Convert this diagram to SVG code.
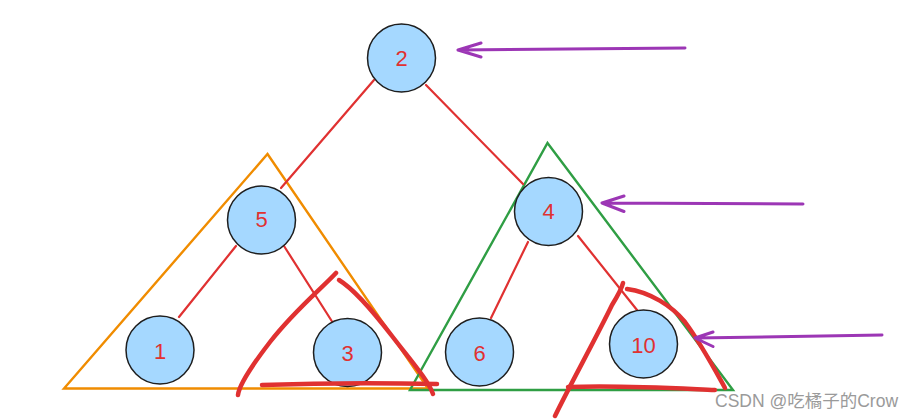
<svg xmlns="http://www.w3.org/2000/svg" width="924" height="419" viewBox="0 0 924 419">
<style>
.node circle{fill:#a5d8ff;stroke:#1e1e1e;stroke-width:1.5}
.node text{fill:#e03131;font-family:"Liberation Sans","DejaVu Sans",sans-serif;font-size:22px;text-anchor:middle;dominant-baseline:central}
.edge{stroke:#e03131;stroke-width:2.2;fill:none;stroke-linecap:round}
.tri{fill:none;stroke-width:2.4;stroke-linejoin:miter}
.scr{stroke:#e03131;stroke-width:4.5;fill:none;stroke-linecap:round;stroke-linejoin:round}
.arr{stroke:#9c36b5;stroke-width:3;fill:none;stroke-linecap:round;stroke-linejoin:round}
</style>
<rect width="924" height="419" fill="#ffffff"/>
<g id="triangles">
<polygon class="tri" stroke="#f08c00" points="267.5,154 428,388.5 64,388.5"/>
<polygon class="tri" stroke="#2f9e44" points="547.5,143 733,390 410,390"/>
</g>
<g id="connectors">
<line class="edge" x1="374" y1="80" x2="281" y2="188"/>
<line class="edge" x1="426" y1="85" x2="523" y2="184"/>
<line class="edge" x1="236" y1="246" x2="179" y2="317"/>
<line class="edge" x1="284" y1="246" x2="333" y2="323"/>
<line class="edge" x1="528" y1="242" x2="491" y2="318"/>
<line class="edge" x1="578" y1="236" x2="637" y2="310"/>
</g>
<g id="node-2" class="node"><circle cx="401.5" cy="58" r="34"/><text x="401.5" y="58">2</text></g>
<g id="node-5" class="node"><circle cx="261.5" cy="220" r="34"/><text x="261.5" y="219">5</text></g>
<g id="node-4" class="node"><circle cx="548.5" cy="211.5" r="34"/><text x="548.5" y="211">4</text></g>
<g id="node-1" class="node"><circle cx="160" cy="350" r="34"/><text x="160" y="351">1</text></g>
<g id="node-3" class="node"><circle cx="347.5" cy="352.5" r="34"/><text x="347.5" y="353">3</text></g>
<g id="node-6" class="node"><circle cx="479.5" cy="352" r="34"/><text x="479.5" y="353">6</text></g>
<g id="node-10" class="node"><circle cx="643.5" cy="344" r="34"/><text x="643.5" y="345">10</text></g>
<g id="scribbles">
<path class="scr" d="M238,395 C239,386 250,368 270,342 C295,310 320,290 336,273"/>
<path class="scr" d="M339,280 C352,288 372,310 392,336 C412,362 428,380 433,394"/>
<path class="scr" d="M262,385 C320,383 390,383 437,384"/>
<path class="scr" d="M555,416 C570,385 595,340 612,305 C620,292 622,288 623,283"/>
<path class="scr" d="M627,289 C650,292 672,306 685,322 C700,342 715,370 725,388"/>
<path class="scr" d="M568,387 C620,385 670,388 715,390"/>
</g>
<g id="arrows">
<path class="arr" d="M685,48 L458,50 M481,43 L458,50 L481,57"/>
<path class="arr" d="M803,204 L602,203 M624,196 L602,203 L624,211.5"/>
<path class="arr" d="M882,335 L695,338 M713,332 L695,338 L713,346.5"/>
</g>
<text x="715" y="407" font-family="'Liberation Sans','Noto Sans CJK SC',sans-serif" font-size="17.5" fill="#9a9a9a">CSDN @吃橘子的Crow</text>
</svg>
